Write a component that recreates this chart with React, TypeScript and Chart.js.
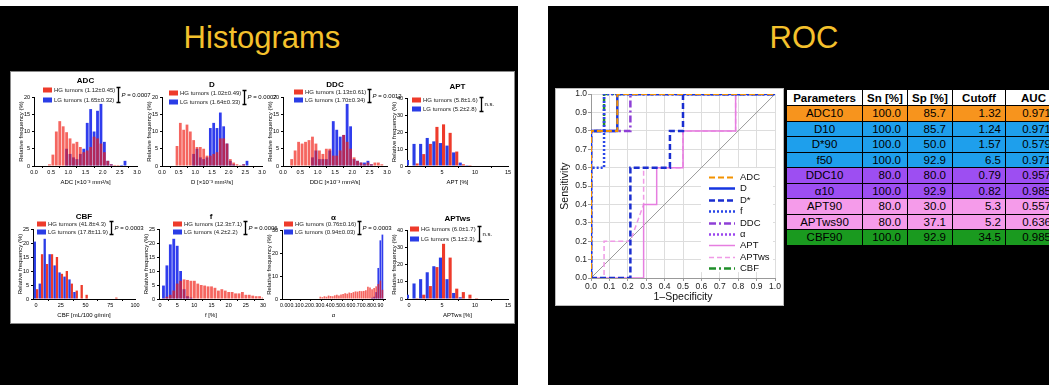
import React, { useEffect, useRef } from "react";
import { Chart, registerables } from "chart.js";

Chart.register(...registerables);

const FONT = "'Liberation Sans', Arial, Helvetica, sans-serif";
const RED_OVER = "rgba(240,30,20,0.68)";
const BLUE_UNDER = "rgba(25,40,235,0.9)";
const RED_SOLID = "#ee3b2b";
const BLUE_SOLID = "#2a3de6";

// ---------------- Histogram data (relative frequency, %) ----------------
const adcBins = [0.45, 0.55, 0.65, 0.75, 0.85, 0.95, 1.05, 1.15, 1.25, 1.35, 1.45, 1.55, 1.65, 1.75, 1.85, 1.95, 2.05, 2.15, 2.25, 2.35, 2.45, 2.55, 2.65];
const adcHG = [0.5, 3.3, 10, 13, 11.5, 9.8, 8, 6.5, 7, 5.5, 4, 4.5, 5.5, 8.5, 8, 6.5, 4, 1.5, 0.5, 0.3, 0.3, 0, 0];
const adcLG = [0, 0, 0, 0, 0, 5, 3.5, 2.5, 2, 3.5, 5, 12.5, 16.5, 10, 16, 18, 7, 1.5, 0.5, 0, 0, 0.3, 1.5];

const dBins = [0.45, 0.55, 0.65, 0.75, 0.85, 0.95, 1.05, 1.15, 1.25, 1.35, 1.45, 1.55, 1.65, 1.75, 1.85, 1.95, 2.05, 2.15, 2.25, 2.35, 2.45, 2.55];
const dHG = [5.8, 12.5, 10.5, 12, 10, 7.5, 5.5, 5.5, 5, 3, 3, 3.5, 4, 8, 8, 6.5, 2, 1, 0.5, 0.3, 0.5, 0];
const dLG = [0, 0, 0, 0, 0, 3.5, 5, 2.5, 2, 2.5, 11, 12.5, 11, 15.5, 11.5, 6.5, 1.5, 0.5, 0, 0, 0.5, 1.5];

const ddcBins = [0.25, 0.35, 0.45, 0.55, 0.65, 0.75, 0.85, 0.95, 1.05, 1.15, 1.25, 1.35, 1.45, 1.55, 1.65, 1.75, 1.85, 1.95, 2.05, 2.15, 2.25, 2.35, 2.45, 2.55, 2.65, 2.75, 2.85, 2.95];
const ddcHG = [2, 4.5, 7, 6.5, 7, 7.5, 8.5, 6.5, 4.5, 3.5, 5, 5, 3, 3, 4.5, 9, 7, 5, 2.5, 1.5, 1, 0.5, 1, 0.5, 1, 1, 0.5, 0];
const ddcLG = [0, 0, 0, 0, 0, 0, 2.5, 4.5, 2, 2, 2, 4.5, 13, 10.5, 8.5, 9, 18, 11.5, 2, 1.5, 1, 1, 1.5, 0.5, 0, 0, 0, 0];

const aptBins = [0, 1, 2, 3, 4, 5, 6, 7, 8, 9, 10];
const aptHG = [0, 1.5, 7, 13, 23, 24.5, 19.5, 8.5, 1, 0.5, 0.3];
const aptLG = [3.5, 13, 13, 16.5, 14.5, 13.5, 12, 8, 2, 0.5, 0];

const cbfBins = [0, 5, 10, 15, 20, 25, 30, 35, 40, 45, 50, 55, 60, 65, 70, 75, 80];
const cbfHG = [3.5, 16, 12.5, 16, 15, 9, 10, 5.5, 3, 5, 1.5, 0, 0, 0, 0, 0, 0.5];
const cbfLG = [20.5, 5.5, 21.5, 16, 12, 9.5, 8, 7, 2.5, 0, 0, 0, 0, 0, 0, 0, 0];

const fBins = [1, 2, 3, 4, 5, 6, 7, 8, 9, 10, 11, 12, 13, 14, 15, 16, 17, 18, 19, 20, 21, 22, 23, 24, 25, 26, 27, 28, 29, 30];
const fHG = [0.3, 0.8, 1.5, 3, 5.5, 6.5, 7, 6.8, 6.5, 6.5, 5.5, 5, 4.8, 4.5, 4.5, 4, 3, 3.5, 3, 2.5, 2.5, 2, 2, 2.5, 1.5, 1.5, 1.2, 1, 1, 0.5];
const fLG = [4.8, 12, 19.5, 21.5, 19, 10, 3.5, 1, 0.5, 0, 0, 0, 0, 0, 0, 0, 0, 0, 0, 0, 0, 0, 0, 0, 0, 0, 0, 0, 0, 0];

const alphaBins = [0.34, 0.36, 0.38, 0.4, 0.42, 0.44, 0.46, 0.48, 0.5, 0.52, 0.54, 0.56, 0.58, 0.6, 0.62, 0.64, 0.66, 0.68, 0.7, 0.72, 0.74, 0.76, 0.78, 0.8, 0.82, 0.84, 0.86, 0.88, 0.9, 0.92, 0.94];
const alphaHG = [1, 0.8, 1.2, 1, 1.5, 1.3, 1.2, 1.6, 1.8, 1.5, 2, 2.2, 2.5, 2.3, 2.8, 2.6, 3, 3.3, 3.2, 3.5, 3.4, 3.5, 3.8, 5.3, 5, 4.2, 4.8, 5.5, 6.5, 8, 4];
const alphaLG = [0, 0, 0, 0, 0, 0, 0, 0, 0, 0, 0, 0, 0, 0, 0, 0, 0, 0, 0, 0, 0, 0, 0, 0, 0, 0.5, 1, 3, 13.5, 25.5, 28];

const aptwsBins = [0, 1, 2, 3, 4, 5, 6, 7, 8, 9, 10];
const aptwsHG = [0, 0.5, 2.5, 7.5, 18.5, 32, 24, 6, 4, 2.5, 0.5];
const aptwsLG = [2.5, 9, 11.5, 15.5, 19, 24, 11.5, 3.5, 1, 0, 0];

// ---------------- ROC data ----------------
const rocAdcX = [0, 0, 0.143, 0.143, 1];
const rocAdcY = [0, 0.8, 0.8, 1, 1];
const rocDX = [0, 0, 0.143, 0.143, 1];
const rocDY = [0, 0.8, 0.8, 1, 1];
const rocDStarX = [0, 0.214, 0.214, 0.429, 0.429, 0.5, 0.5, 1];
const rocDStarY = [0, 0, 0.6, 0.6, 0.8, 0.8, 1, 1];
const rocFX = [0, 0, 0.071, 0.071, 1];
const rocFY = [0, 0.6, 0.6, 1, 1];
const rocDdcX = [0, 0, 0.214, 0.214, 1];
const rocDdcY = [0, 0.8, 0.8, 1, 1];
const rocAlphaX = [0, 0, 0.071, 0.071, 1];
const rocAlphaY = [0, 0.8, 0.8, 1, 1];
const rocAptX = [0, 0.286, 0.286, 0.357, 0.357, 0.5, 0.5, 0.786, 0.786, 1];
const rocAptY = [0, 0, 0.4, 0.4, 0.6, 0.6, 0.8, 0.8, 1, 1];
const rocAptwsX = [0, 0.071, 0.071, 0.214, 0.286, 0.286, 0.5, 0.5, 0.786, 0.786, 1];
const rocAptwsY = [0, 0, 0.2, 0.2, 0.4, 0.6, 0.6, 0.8, 0.8, 1, 1];
const rocCbfX = [0, 0, 0.071, 0.071, 1];
const rocCbfY = [0, 0.8, 0.8, 1, 1];
const rocDiagX = [0, 1];
const rocDiagY = [0, 1];

// ---------------- Table data ----------------
const tableHeaders = ["Parameters", "Sn [%]", "Sp [%]", "Cutoff", "AUC"];
const tableParams = ["ADC10", "D10", "D*90", "f50", "DDC10", "α10", "APT90", "APTws90", "CBF90"];
const tableSn = [100.0, 100.0, 100.0, 100.0, 80.0, 100.0, 80.0, 80.0, 100.0];
const tableSp = [85.7, 85.7, 50.0, 92.9, 80.0, 92.9, 30.0, 37.1, 92.9];
const tableCutoff = ["1.32", "1.24", "1.57", "6.5", "0.79", "0.82", "5.3", "5.2", "34.5"];
const tableAuc = [0.971, 0.971, 0.579, 0.971, 0.957, 0.985, 0.557, 0.636, 0.985];
const tableColors = ["#f7941d", "#1e9fec", "#1e9fec", "#1e9fec", "#9d4ef2", "#9d4ef2", "#f59bea", "#f59bea", "#1a9a1f"];

// ---------------- Panels ----------------
type Panel = {
  key: string;
  title: string;
  xLabel: string;
  bins: number[];
  hg: number[];
  lg: number[];
  hgText: string;
  lgText: string;
  p: string;
  xMin: number;
  xMax: number;
  xStep: number;
  dec: number;
  yMax: number;
  yStep: number;
  grouped: boolean;
  tickSize: number;
  area: { l: number; r: number; t: number; b: number };
  titleDy: number;
  dx: number;
  r1: number;
  r2: number;
};

const XU = "[×10⁻³ mm²/s]";

const panels: Panel[] = [
  { key: "adc", title: "ADC", xLabel: "ADC " + XU, bins: adcBins, hg: adcHG, lg: adcLG, hgText: "HG tumors (1.12±0.45)", lgText: "LG tumors (1.65±0.32)", p: "0.0007", xMin: 0, xMax: 3, xStep: 0.5, dec: 1, yMax: 20, yStep: 5, grouped: false, tickSize: 5.5, area: { l: 34, r: 137, t: 97, b: 166 }, titleDy: -16, dx: 9, r1: -7, r2: 3 },
  { key: "d", title: "D", xLabel: "D " + XU, bins: dBins, hg: dHG, lg: dLG, hgText: "HG tumors (1.02±0.49)", lgText: "LG tumors (1.64±0.33)", p: "0.0007", xMin: 0, xMax: 3, xStep: 0.5, dec: 1, yMax: 20, yStep: 5, grouped: false, tickSize: 5.5, area: { l: 162, r: 262, t: 97, b: 166 }, titleDy: -12, dx: 7, r1: -4, r2: 5 },
  { key: "ddc", title: "DDC", xLabel: "DDC " + XU, bins: ddcBins, hg: ddcHG, lg: ddcLG, hgText: "HG tumors (1.13±0.61)", lgText: "LG tumors (1.70±0.34)", p: "0.0012", xMin: 0, xMax: 3, xStep: 0.5, dec: 1, yMax: 20, yStep: 5, grouped: false, tickSize: 5.5, area: { l: 283, r: 387, t: 97, b: 166 }, titleDy: -12, dx: 11, r1: -5, r2: 3 },
  { key: "apt", title: "APT", xLabel: "APT [%]", bins: aptBins, hg: aptHG, lg: aptLG, hgText: "HG tumors (5.8±1.6)", lgText: "LG tumors (5.2±2.8)", p: "", xMin: -0.3, xMax: 15, xStep: 5, dec: 0, yMax: 40, yStep: 10, grouped: true, tickSize: 5.5, area: { l: 407, r: 508, t: 98, b: 166 }, titleDy: -11, dx: 5, r1: 2, r2: 11 },
  { key: "cbf", title: "CBF", xLabel: "CBF [mL/100 g/min]", bins: cbfBins, hg: cbfHG, lg: cbfLG, hgText: "HG tumors (41.8±4.3)", lgText: "LG tumors (17.8±11.9)", p: "0.0003", xMin: -3, xMax: 100, xStep: 25, dec: 0, yMax: 25, yStep: 5, grouped: true, tickSize: 5.5, area: { l: 33, r: 135, t: 229, b: 299 }, titleDy: -12, dx: 4, r1: -5, r2: 3 },
  { key: "f", title: "f", xLabel: "f [%]", bins: fBins, hg: fHG, lg: fLG, hgText: "HG tumors (12.3±7.1)", lgText: "LG tumors (4.2±2.2)", p: "0.0006", xMin: -0.3, xMax: 30, xStep: 5, dec: 0, yMax: 25, yStep: 5, grouped: false, tickSize: 5.5, area: { l: 159, r: 263, t: 229, b: 299 }, titleDy: -12, dx: 14, r1: -5, r2: 3 },
  { key: "alpha", title: "α", xLabel: "α", bins: alphaBins, hg: alphaHG, lg: alphaLG, hgText: "HG tumors (0.76±0.16)", lgText: "LG tumors (0.94±0.03)", p: "0.0003", xMin: -0.03, xMax: 0.965, xStep: 0.1, dec: 2, yMax: 30, yStep: 10, grouped: false, tickSize: 5.2, area: { l: 282, r: 385, t: 230, b: 299 }, titleDy: -12, dx: 2, r1: -6, r2: 2 },
  { key: "aptws", title: "APTws", xLabel: "APTws [%]", bins: aptwsBins, hg: aptwsHG, lg: aptwsLG, hgText: "HG tumors (6.0±1.7)", lgText: "LG tumors (5.1±2.3)", p: "", xMin: -0.3, xMax: 15, xStep: 5, dec: 0, yMax: 40, yStep: 10, grouped: true, tickSize: 5.5, area: { l: 407, r: 508, t: 230, b: 299 }, titleDy: -11, dx: 3, r1: -1, r2: 9 },
];

const PAD_L = 4, PAD_R = 30, PAD_T = 26, PAD_B = 2, Y_W = 16, X_H = 22;

const histDeco = {
  id: "histDeco",
  afterDraw(chart: any, _args: any, o: any) {
    const { ctx, chartArea } = chart;
    const l = chartArea.left, r = chartArea.right, t = chartArea.top;
    ctx.save();
    ctx.fillStyle = "#000";
    ctx.textBaseline = "middle";
    ctx.textAlign = "center";
    ctx.font = `bold 8px ${FONT}`;
    ctx.fillText(o.title, (l + r) / 2, t + o.titleDy);
    ctx.textAlign = "left";
    ctx.font = `6px ${FONT}`;
    const x0 = l + o.dx;
    const rows: [string, string, number][] = [
      [RED_SOLID, o.hg, o.r1],
      [BLUE_SOLID, o.lg, o.r2],
    ];
    let maxW = 0;
    for (const [c, s, dy] of rows) {
      ctx.fillStyle = c;
      ctx.fillRect(x0, t + dy - 2.5, 9, 5);
      ctx.fillStyle = "#222";
      ctx.fillText(s, x0 + 11, t + dy);
      maxW = Math.max(maxW, ctx.measureText(s).width);
    }
    const bx = Math.round(x0 + 11 + maxW + 3) + 0.5;
    const y1 = t + o.r1 - 2.5;
    const y2 = t + o.r2 + 2.5;
    ctx.strokeStyle = "#000";
    ctx.lineWidth = 1.3;
    ctx.beginPath();
    ctx.moveTo(bx, y1);
    ctx.lineTo(bx, y2);
    ctx.moveTo(bx - 2, y1);
    ctx.lineTo(bx + 2, y1);
    ctx.moveTo(bx - 2, y2);
    ctx.lineTo(bx + 2, y2);
    ctx.stroke();
    const ym = (y1 + y2) / 2;
    let tx = bx + 3;
    ctx.fillStyle = "#000";
    if (o.p) {
      ctx.font = `italic 6px ${FONT}`;
      ctx.fillText("P", tx, ym);
      tx += ctx.measureText("P").width;
      ctx.font = `6px ${FONT}`;
      ctx.fillText(" = " + o.p, tx, ym);
    } else {
      ctx.font = `6px ${FONT}`;
      ctx.fillText("n.s.", tx, ym);
    }
    ctx.restore();
  },
};

function histConfig(p: Panel): any {
  const hgData = p.bins.map((x, i) => ({ x, y: p.hg[i] }));
  const lgData = p.bins.map((x, i) => ({ x, y: p.lg[i] }));
  const common = {
    borderWidth: 0,
    grouped: p.grouped,
    categoryPercentage: p.grouped ? 0.94 : 1,
    barPercentage: p.grouped ? 1 : 0.82,
  };
  const red = { label: "HG tumors", data: hgData, backgroundColor: p.grouped ? RED_SOLID : RED_OVER, ...common };
  const blue = { label: "LG tumors", data: lgData, backgroundColor: p.grouped ? BLUE_SOLID : BLUE_UNDER, ...common };
  const datasets = p.grouped ? [blue, red] : [red, blue];
  const axisGrid = { drawOnChartArea: false, drawTicks: true, tickLength: 2, color: "#000", tickColor: "#000", lineWidth: 1 };
  const dec = p.dec;
  return {
    type: "bar",
    data: { datasets },
    options: {
      animation: false,
      responsive: false,
      maintainAspectRatio: false,
      events: [],
      layout: { padding: { left: PAD_L, right: PAD_R, top: PAD_T, bottom: PAD_B } },
      plugins: {
        legend: { display: false },
        tooltip: { enabled: false },
        histDeco: { title: p.title, hg: p.hgText, lg: p.lgText, p: p.p, titleDy: p.titleDy, dx: p.dx, r1: p.r1, r2: p.r2 },
      },
      scales: {
        x: {
          type: "linear",
          offset: false,
          min: p.xMin,
          max: p.xMax,
          afterFit: (s: any) => { s.height = X_H; },
          grid: axisGrid,
          border: { color: "#000", width: 1 },
          ticks: {
            stepSize: p.xStep,
            includeBounds: false,
            autoSkip: false,
            maxRotation: 0,
            minRotation: 0,
            padding: 1,
            color: "#000",
            font: { size: p.tickSize, family: FONT },
            callback: (v: any) => Number(v).toFixed(dec),
          },
          title: { display: true, text: p.xLabel, color: "#000", font: { size: 6, family: FONT }, padding: { top: 0, bottom: 2 } },
        },
        y: {
          min: 0,
          max: p.yMax,
          afterFit: (s: any) => { s.width = Y_W; },
          grid: axisGrid,
          border: { color: "#000", width: 1 },
          ticks: { stepSize: p.yStep, padding: 2, color: "#000", font: { size: 5.5, family: FONT } },
          title: { display: true, text: "Relative frequency (%)", color: "#000", font: { size: 6, family: FONT }, padding: { top: 0, bottom: 0 } },
        },
      },
    },
    plugins: [histDeco],
  };
}

// ---------------- ROC ----------------
const rocSeries = [
  { label: "ADC", xs: rocAdcX, ys: rocAdcY, color: "#f39200", width: 2, dash: [6, 3] },
  { label: "D", xs: rocDX, ys: rocDY, color: "#1636e0", width: 2.5, dash: [] as number[] },
  { label: "D*", xs: rocDStarX, ys: rocDStarY, color: "#1a2ed0", width: 2.5, dash: [6, 3] },
  { label: "f", xs: rocFX, ys: rocFY, color: "#2a46e8", width: 2.5, dash: [2, 2] },
  { label: "DDC", xs: rocDdcX, ys: rocDdcY, color: "#8e3fd6", width: 2.5, dash: [7, 3, 2, 3] },
  { label: "α", xs: rocAlphaX, ys: rocAlphaY, color: "#9a45ee", width: 2.5, dash: [2, 2] },
  { label: "APT", xs: rocAptX, ys: rocAptY, color: "#e67ee0", width: 1.5, dash: [] as number[] },
  { label: "APTws", xs: rocAptwsX, ys: rocAptwsY, color: "#f09ae6", width: 1.5, dash: [5, 3] },
  { label: "CBF", xs: rocCbfX, ys: rocCbfY, color: "#1f8f2a", width: 2.5, dash: [7, 3, 2, 3] },
];

const rocLegend = {
  id: "rocLegend",
  afterDatasetsDraw(chart: any) {
    const { ctx, chartArea } = chart;
    const l = chartArea.left, t = chartArea.top, r = chartArea.right;
    ctx.save();
    ctx.fillStyle = "#fff";
    ctx.fillRect(l + 110, t + 74, r - l - 112, 104);
    const ds = chart.data.datasets.filter((d: any) => !d.isDiag);
    ds.forEach((d: any, i: number) => {
      const y = Math.round(t + 83 + i * 11.35) + 0.5;
      ctx.strokeStyle = d.borderColor;
      ctx.lineWidth = d.borderWidth;
      ctx.setLineDash(d.borderDash || []);
      ctx.beginPath();
      ctx.moveTo(l + 118, y);
      ctx.lineTo(l + 144, y);
      ctx.stroke();
      ctx.setLineDash([]);
      ctx.fillStyle = "#111";
      ctx.font = `9.5px ${FONT}`;
      ctx.textBaseline = "middle";
      ctx.textAlign = "left";
      ctx.fillText(d.label, l + 149, y);
    });
    ctx.restore();
  },
};

function rocConfig(): any {
  const datasets: any[] = rocSeries.map((s) => ({
    label: s.label,
    data: s.xs.map((x, i) => ({ x, y: s.ys[i] })),
    borderColor: s.color,
    borderWidth: s.width,
    borderDash: s.dash,
    pointRadius: 0,
    fill: false,
    tension: 0,
  }));
  datasets.push({
    label: "diag",
    isDiag: true,
    data: rocDiagX.map((x, i) => ({ x, y: rocDiagY[i] })),
    borderColor: "#9a9a9a",
    borderWidth: 1,
    pointRadius: 0,
    fill: false,
  });
  const grid = { color: "#dddddd", lineWidth: 1, tickLength: 3, tickColor: "#999" };
  return {
    type: "line",
    data: { datasets },
    options: {
      animation: false,
      responsive: false,
      maintainAspectRatio: false,
      events: [],
      layout: { padding: { left: 0, top: 6, right: 8, bottom: 0 } },
      plugins: { legend: { display: false }, tooltip: { enabled: false } },
      scales: {
        x: {
          type: "linear",
          min: 0,
          max: 1,
          afterFit: (s: any) => { s.height = 27; },
          grid,
          border: { color: "#999" },
          ticks: { stepSize: 0.1, autoSkip: false, maxRotation: 0, minRotation: 0, padding: 1, color: "#222", font: { size: 8.5, family: FONT }, callback: (v: any) => Number(v).toFixed(1) },
          title: { display: true, text: "1–Specificity", color: "#111", font: { size: 10.5, family: FONT }, padding: { top: 0, bottom: 2 } },
        },
        y: {
          type: "linear",
          min: 0,
          max: 1,
          afterFit: (s: any) => { s.width = 36; },
          grid,
          border: { color: "#999" },
          ticks: { stepSize: 0.1, autoSkip: false, padding: 1, color: "#222", font: { size: 8.5, family: FONT }, callback: (v: any) => Number(v).toFixed(1) },
          title: { display: true, text: "Sensitivity", color: "#111", font: { size: 10.5, family: FONT }, padding: { top: 4, bottom: 0 } },
        },
      },
    },
    plugins: [rocLegend],
  };
}

function ChartCanvas({ make, left, top, width, height }: { make: () => any; left: number; top: number; width: number; height: number }) {
  const ref = useRef<HTMLCanvasElement | null>(null);
  useEffect(() => {
    if (!ref.current) return;
    const chart = new Chart(ref.current, make());
    return () => chart.destroy();
  }, []);
  return <canvas ref={ref} width={width} height={height} style={{ position: "absolute", left, top, width, height }} />;
}

const slideTitle: React.CSSProperties = {
  position: "absolute",
  top: 22,
  height: 31,
  lineHeight: "31px",
  fontSize: 31,
  color: "#f4c12c",
  textAlign: "center",
  fontFamily: FONT,
};

export default function App() {
  const cell: React.CSSProperties = { border: "1.5px solid #000", padding: 0, verticalAlign: "middle", whiteSpace: "nowrap", overflow: "hidden" };
  return (
    <div style={{ position: "absolute", left: 0, top: 0, width: 1049, height: 385, overflow: "hidden", background: "#fff", fontFamily: FONT }}>
      <div style={{ position: "absolute", left: 0, top: 6, width: 518, height: 379, background: "#000" }} />
      <div style={{ position: "absolute", left: 548, top: 6, width: 501, height: 379, background: "#000" }} />
      <div style={{ ...slideTitle, left: 3, width: 518 }}>Histograms</div>
      <div style={{ ...slideTitle, left: 548, width: 512 }}>ROC</div>
      <div style={{ position: "absolute", left: 10, top: 71, width: 503, height: 251, background: "#fff", border: "1px solid #8a8a8a" }} />
      {panels.map((p) => {
        const { l, r, t, b } = p.area;
        return (
          <ChartCanvas
            key={p.key}
            make={() => histConfig(p)}
            left={l - Y_W - PAD_L}
            top={t - PAD_T}
            width={r - l + Y_W + PAD_L + PAD_R}
            height={b - t + PAD_T + X_H + PAD_B}
          />
        );
      })}
      <div style={{ position: "absolute", left: 555, top: 88, width: 227, height: 216, background: "#fff", border: "1px solid #bbb" }} />
      <ChartCanvas make={rocConfig} left={555} top={88} width={228} height={217} />
      <table
        style={{
          position: "absolute",
          left: 786,
          top: 89,
          borderCollapse: "collapse",
          tableLayout: "fixed",
          width: 275,
          fontFamily: FONT,
          fontSize: 11.5,
          color: "#000",
        }}
      >
        <colgroup>
          <col style={{ width: 76 }} />
          <col style={{ width: 45 }} />
          <col style={{ width: 45 }} />
          <col style={{ width: 53 }} />
          <col style={{ width: 56 }} />
        </colgroup>
        <thead>
          <tr style={{ height: 16, background: "#fff" }}>
            {tableHeaders.map((h) => (
              <th key={h} style={{ ...cell, fontWeight: "bold", textAlign: "center" }}>{h}</th>
            ))}
          </tr>
        </thead>
        <tbody>
          {tableParams.map((name, i) => (
            <tr key={name} style={{ height: 15.5, background: tableColors[i] }}>
              <td style={{ ...cell, textAlign: "center" }}>{name}</td>
              <td style={{ ...cell, textAlign: "right", paddingRight: 6 }}>{tableSn[i].toFixed(1)}</td>
              <td style={{ ...cell, textAlign: "right", paddingRight: 6 }}>{tableSp[i].toFixed(1)}</td>
              <td style={{ ...cell, textAlign: "right", paddingRight: 4 }}>{tableCutoff[i]}</td>
              <td style={{ ...cell, textAlign: "right", paddingRight: 10 }}>{tableAuc[i].toFixed(3)}</td>
            </tr>
          ))}
        </tbody>
      </table>
    </div>
  );
}
